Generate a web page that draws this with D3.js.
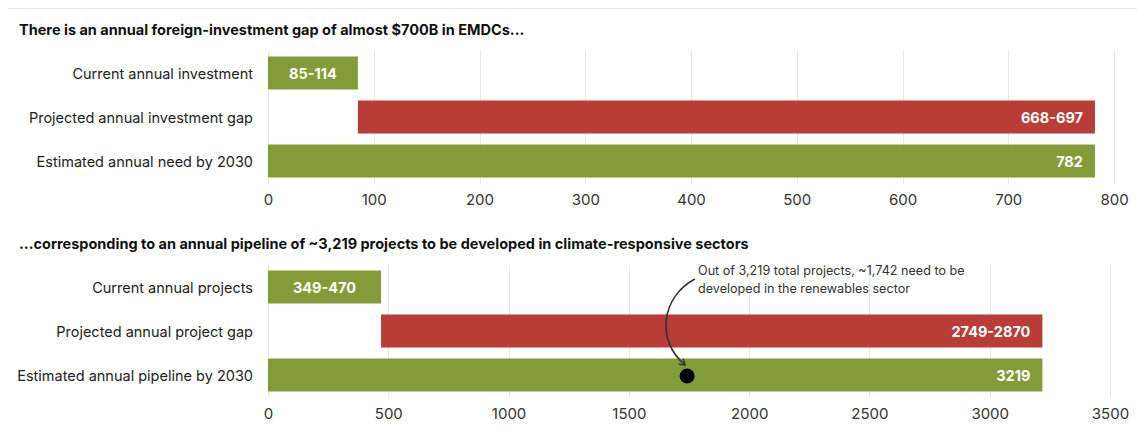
<!DOCTYPE html>
<html>
<head>
<meta charset="utf-8">
<script src="https://cdn.jsdelivr.net/npm/d3@7"></script>
<style>
  html, body { margin: 0; padding: 0; background: #fff; }
  svg { display: block; font-family: Inter, "Noto Sans", sans-serif; }
</style>
</head>
<body>
<svg id="chart" width="1137" height="430"></svg>
<script>
// Panel 1: annual foreign investment (billions USD)
const investCategories = ["Current annual investment", "Projected annual investment gap", "Estimated annual need by 2030"];
const investStart = [0, 85, 0];
const investEnd = [85, 782, 782];
const investLabels = ["85-114", "668-697", "782"];
const investTicks = [0, 100, 200, 300, 400, 500, 600, 700, 800];

// Panel 2: annual project pipeline (number of projects)
const projectCategories = ["Current annual projects", "Projected annual project gap", "Estimated annual pipeline by 2030"];
const projectStart = [0, 470, 0];
const projectEnd = [470, 3219, 3219];
const projectLabels = ["349-470", "2749-2870", "3219"];
const projectTicks = [0, 500, 1000, 1500, 2000, 2500, 3000, 3500];

// Renewables callout
const renewablesValue = 1742;
const calloutLines = ["Out of 3,219 total projects, ~1,742 need to be", "developed in the renewables sector"];

const kinds = ["current", "gap", "need"];
const colors = { current: "#849c38", gap: "#b93c37", need: "#849c38" };

const svg = d3.select("#chart");

// thin rule across the top
svg.append("line")
  .attr("x1", 8).attr("x2", 1137).attr("y1", 8.5).attr("y2", 8.5)
  .attr("stroke", "#e6e6e6").attr("stroke-width", 1);

function panel(cfg) {
  const g = svg.append("g");
  const x = d3.scaleLinear().domain([cfg.ticks[0], cfg.ticks[cfg.ticks.length - 1]]).range([268, cfg.xMax]);
  const y = d3.scaleBand().domain(cfg.categories).range([cfg.top, cfg.top + 121]).paddingInner(0.25).paddingOuter(0);

  g.append("text")
    .attr("x", 19).attr("y", cfg.titleY)
    .attr("font-size", 14.5).attr("font-weight", 700).attr("fill", "#111")
    .attr("dominant-baseline", "middle")
    .text(cfg.title);

  // vertical gridlines
  g.append("g").selectAll("line").data(cfg.ticks).join("line")
    .attr("x1", d => Math.round(x(d)) + 0.5).attr("x2", d => Math.round(x(d)) + 0.5)
    .attr("y1", cfg.gridTop).attr("y2", cfg.gridBottom)
    .attr("stroke", "#e8e8e8").attr("stroke-width", 1);

  // bottom axis (labels only)
  const axis = g.append("g")
    .attr("transform", `translate(0,${cfg.gridBottom})`)
    .call(d3.axisBottom(x).tickValues(cfg.ticks).tickSize(0).tickPadding(10).tickFormat(d3.format("d")));
  axis.select(".domain").remove();
  axis.selectAll("text").attr("font-size", 15).attr("fill", "#333").attr("font-family", "Inter, sans-serif");

  const rows = cfg.categories.map((c, i) => ({ c, s: cfg.start[i], e: cfg.end[i], label: cfg.labels[i], kind: kinds[i] }));

  // category labels
  g.append("g").selectAll("text").data(rows).join("text")
    .attr("x", 253).attr("y", d => y(d.c) + y.bandwidth() / 2)
    .attr("text-anchor", "end").attr("dominant-baseline", "central")
    .attr("font-size", 14.5).attr("fill", "#222")
    .text(d => d.c);

  // bars
  g.append("g").selectAll("rect").data(rows).join("rect")
    .attr("x", d => x(d.s)).attr("y", d => y(d.c))
    .attr("width", d => x(d.e) - x(d.s)).attr("height", y.bandwidth())
    .attr("fill", d => colors[d.kind]);

  // value labels
  g.append("g").selectAll("text").data(rows).join("text")
    .attr("x", d => d.kind === "current" ? (x(d.s) + x(d.e)) / 2 : x(d.e) - 12)
    .attr("y", d => y(d.c) + y.bandwidth() / 2)
    .attr("text-anchor", d => d.kind === "current" ? "middle" : "end")
    .attr("dominant-baseline", "central")
    .attr("font-size", 14.5).attr("font-weight", 700).attr("fill", "#fff")
    .text(d => d.label);

  return { x, y, g };
}

panel({
  title: "There is an annual foreign-investment gap of almost $700B in EMDCs...",
  titleY: 31, top: 56.5, gridTop: 50, gridBottom: 184, xMax: 1114,
  categories: investCategories, start: investStart, end: investEnd, labels: investLabels, ticks: investTicks
});

const p2 = panel({
  title: "...corresponding to an annual pipeline of ~3,219 projects to be developed in climate-responsive sectors",
  titleY: 245, top: 270.5, gridTop: 265, gridBottom: 398, xMax: 1110,
  categories: projectCategories, start: projectStart, end: projectEnd, labels: projectLabels, ticks: projectTicks
});

// renewables marker on the pipeline bar
const dotX = p2.x(renewablesValue);
const dotY = p2.y(projectCategories[2]) + p2.y.bandwidth() / 2 + 1;
p2.g.append("circle").attr("cx", dotX).attr("cy", dotY).attr("r", 7.5).attr("fill", "#000");

// callout text
p2.g.append("g").selectAll("text").data(calloutLines).join("text")
  .attr("x", 698).attr("y", (d, i) => 270 + i * 18)
  .attr("dominant-baseline", "central")
  .attr("font-size", 12.6).attr("fill", "#333")
  .text(d => d);

// curved arrow from the callout down to the marker
const defs = svg.append("defs");
defs.append("marker")
  .attr("id", "arrowhead").attr("viewBox", "0 0 10 10")
  .attr("refX", 7).attr("refY", 5).attr("markerWidth", 9).attr("markerHeight", 9)
  .attr("markerUnits", "userSpaceOnUse").attr("orient", "auto")
  .append("path").attr("d", "M1,1 L7,5 L1,9").attr("fill", "none").attr("stroke", "#333").attr("stroke-width", 1.6);

const path = d3.path();
path.moveTo(695, 279);
path.bezierCurveTo(662, 296, 655, 340, dotX - 2, dotY - 11);
p2.g.append("path").attr("d", path.toString())
  .attr("fill", "none").attr("stroke", "#333").attr("stroke-width", 1.6)
  .attr("marker-end", "url(#arrowhead)");
</script>
</body>
</html>
